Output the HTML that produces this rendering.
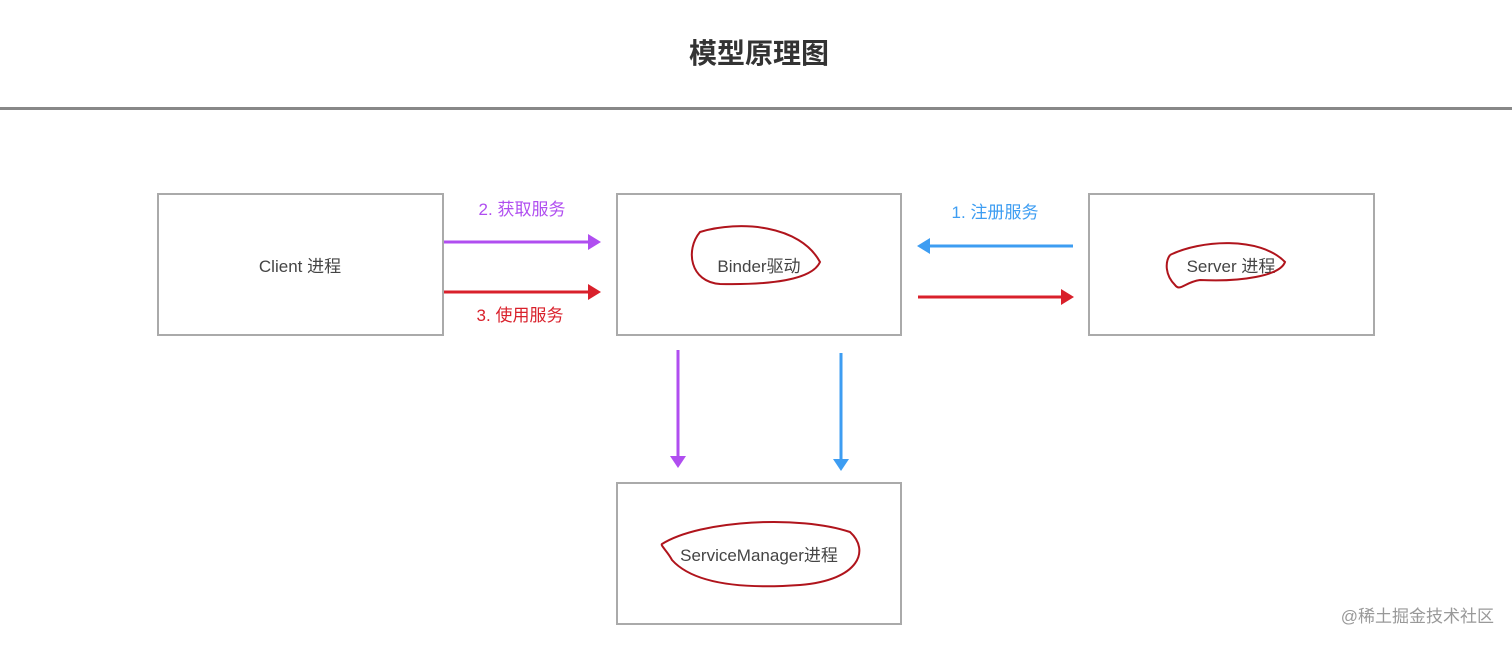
<!DOCTYPE html>
<html><head><meta charset="utf-8"><style>
body{margin:0;background:#fff;width:1512px;height:646px;overflow:hidden}
text{font-family:"Liberation Sans","Noto Sans CJK SC",sans-serif}
</style></head><body>
<svg width="1512" height="646" xmlns="http://www.w3.org/2000/svg">
<text x="759" y="63" font-size="28" font-weight="bold" fill="#333" text-anchor="middle">模型原理图</text>
<rect x="0" y="107" width="1512" height="3" fill="#888"/>
<g fill="none" stroke="#aaa" stroke-width="2">
<rect x="158" y="194" width="285" height="141"/>
<rect x="617" y="194" width="284" height="141"/>
<rect x="1089" y="194" width="285" height="141"/>
<rect x="617" y="483" width="284" height="141"/>
</g>
<g font-size="17" fill="#444" text-anchor="middle">
<text x="300" y="272">Client 进程</text>
<text x="759" y="272">Binder驱动</text>
<text x="1231" y="272">Server 进程</text>
<text x="759" y="561">ServiceManager进程</text>
</g>
<g stroke-width="3">
<line x1="444" y1="242" x2="590" y2="242" stroke="#b04ef0"/>
<polygon points="588,234 601,242 588,250" fill="#b04ef0"/>
<line x1="444" y1="292" x2="590" y2="292" stroke="#d9202b"/>
<polygon points="588,284 601,292 588,300" fill="#d9202b"/>
<line x1="1073" y1="246" x2="928" y2="246" stroke="#3d9df2"/>
<polygon points="930,238 917,246 930,254" fill="#3d9df2"/>
<line x1="918" y1="297" x2="1063" y2="297" stroke="#d9202b"/>
<polygon points="1061,289 1074,297 1061,305" fill="#d9202b"/>
<line x1="678" y1="350" x2="678" y2="458" stroke="#b04ef0"/>
<polygon points="670,456 678,468 686,456" fill="#b04ef0"/>
<line x1="841" y1="353" x2="841" y2="461" stroke="#3d9df2"/>
<polygon points="833,459 841,471 849,459" fill="#3d9df2"/>
</g>
<g font-size="17" text-anchor="middle">
<text x="522" y="215" fill="#b04ef0">2. 获取服务</text>
<text x="520" y="321" fill="#d9202b">3. 使用服务</text>
<text x="995" y="218" fill="#3d9df2">1. 注册服务</text>
</g>
<g fill="none" stroke="#b0141c" stroke-width="2">
<path d="M700,232 C740,220 800,225 820,262 C812,280 770,285 720,284 C690,282 685,250 700,232 Z"/>
<path d="M1170,255 C1200,240 1260,236 1285,262 C1280,276 1240,282 1200,280 C1185,282 1180,292 1175,285 C1165,275 1165,262 1170,255"/>
<path d="M662,544 C700,520 800,515 850,532 C870,550 860,580 800,585 C730,590 690,580 672,560 C668,552 660,545 662,544"/>
</g>
<text x="1494" y="622" font-size="17" fill="#999" text-anchor="end">@稀土掘金技术社区</text>
</svg>
</body></html>
